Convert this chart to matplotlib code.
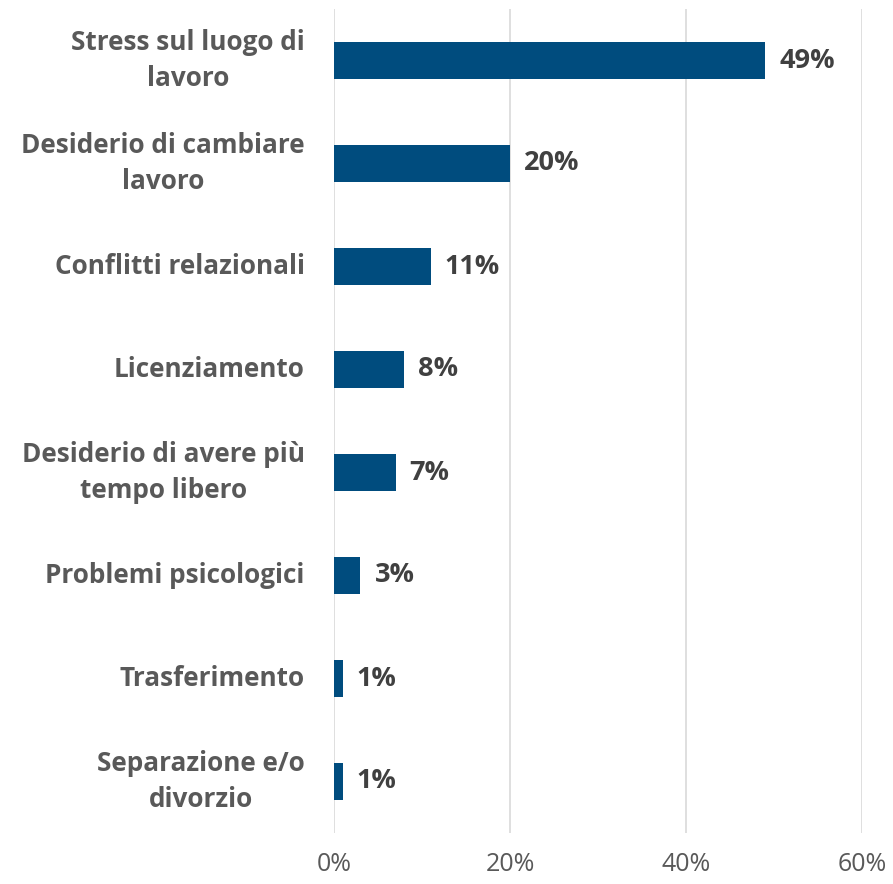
import matplotlib.pyplot as plt
import numpy as np

categories = ["Stress sul luogo di\nlavoro", "Desiderio di cambiare\nlavoro", "Conflitti relazionali",
              "Licenziamento", "Desiderio di avere più\ntempo libero", "Problemi psicologici",
              "Trasferimento", "Separazione e/o\ndivorzio"]
values = [49, 20, 11, 8, 7, 3, 1, 1]
xticks = [0, 20, 40, 60]

plt.rcParams['font.family'] = ['Open Sans', 'DejaVu Sans']

fig = plt.figure(figsize=(8.93, 8.84), dpi=100)
ax = fig.add_axes([334/893, 51/884, (862-334)/893, 824/884])

y = np.arange(len(categories))
ax.barh(y, values, height=0.35, color='#004C7E', zorder=3)
for yi, v in zip(y, values):
    ax.text(v + 1.6, yi, f"{v}%", va='center', ha='left', fontsize=19.5,
            fontweight='bold', color='#404040')

ax.set_ylim(len(categories) - 0.5, -0.5)
ax.set_xlim(0, 60)
ax.set_xticks(xticks)
ax.set_xticklabels([f"{t}%" for t in xticks], fontsize=18, color='#595959')
ax.set_yticks(y)
ax.set_yticklabels(categories, fontsize=18.8, fontweight='bold', color='#595959',
                   ha='right', va='center', multialignment='center', linespacing=1.45)
ax.tick_params(axis='y', length=0, pad=21)
ax.tick_params(axis='x', length=0, pad=14)
ax.xaxis.grid(True, color='#D9D9D9', linewidth=1.2, zorder=0)
for s in ax.spines.values():
    s.set_visible(False)

fig.savefig("out.png", dpi=100)
